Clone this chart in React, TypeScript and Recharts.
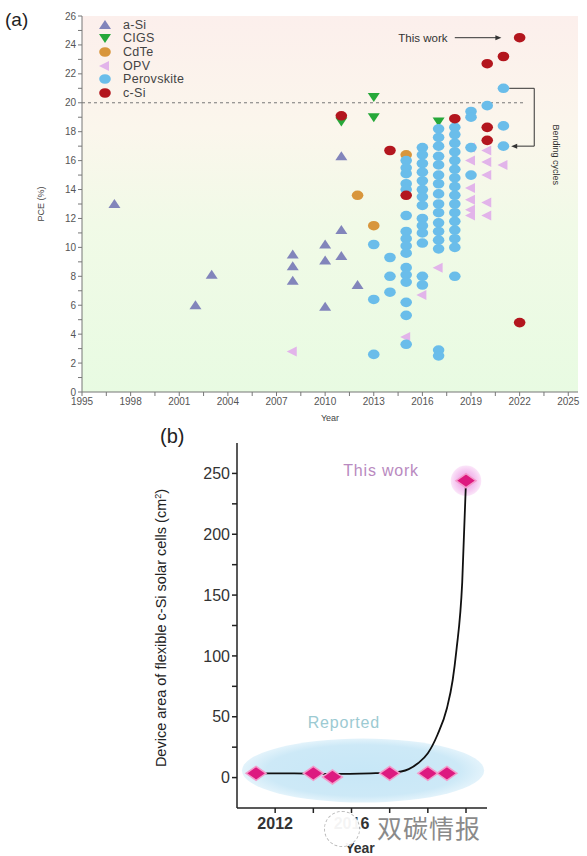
import React from "react";
import {
  ComposedChart,
  Scatter,
  Line,
  XAxis,
  YAxis,
  ReferenceLine,
  ReferenceDot,
  ReferenceArea,
  Legend,
  CartesianGrid,
} from "recharts";

document.body.style.margin = "0";

const FONT = "'Liberation Sans', Arial, sans-serif";

// (a) PCE of flexible solar cells, [year, PCE %]
const aSi = [
  [1997, 13.0], [2002, 6.0], [2003, 8.1], [2008, 9.5], [2008, 8.7], [2008, 7.7],
  [2010, 10.2], [2010, 9.1], [2010, 5.9], [2011, 16.3], [2011, 11.2], [2011, 9.4], [2012, 7.4],
];
const cigs = [[2011, 18.7], [2013, 20.4], [2013, 19.0], [2017, 18.7]];
const cdte = [[2012, 13.6], [2013, 11.5], [2015, 16.4]];
const opv = [
  [2008, 2.8], [2015, 3.8], [2016, 6.7], [2017, 8.6],
  [2019, 16.9], [2019, 16.0], [2019, 14.1], [2019, 13.3], [2019, 12.6], [2019, 12.2],
  [2020, 16.7], [2020, 15.9], [2020, 15.0], [2020, 13.1], [2020, 12.2], [2021, 15.7],
];
const perovskite = [
  [2013, 10.2], [2013, 6.4], [2013, 2.6],
  [2014, 9.3], [2014, 8.0], [2014, 6.9],
  [2015, 16.0], [2015, 15.5], [2015, 15.1], [2015, 14.4], [2015, 14.0], [2015, 12.2], [2015, 11.1],
  [2015, 10.6], [2015, 10.1], [2015, 9.6], [2015, 8.6], [2015, 8.1], [2015, 7.6], [2015, 6.2],
  [2015, 5.3], [2015, 3.3],
  [2016, 16.9], [2016, 16.4], [2016, 15.8], [2016, 15.2], [2016, 14.6], [2016, 14.0], [2016, 13.5],
  [2016, 12.9], [2016, 12.0], [2016, 11.5], [2016, 11.0], [2016, 10.3], [2016, 8.0], [2016, 7.4],
  [2017, 18.2], [2017, 17.6], [2017, 17.0], [2017, 16.3], [2017, 15.7], [2017, 15.0], [2017, 14.4],
  [2017, 13.7], [2017, 13.0], [2017, 12.4], [2017, 11.7], [2017, 11.1], [2017, 10.5], [2017, 9.9],
  [2017, 2.9], [2017, 2.5],
  [2018, 18.3], [2018, 17.8], [2018, 17.2], [2018, 16.6], [2018, 16.0], [2018, 15.4], [2018, 14.8],
  [2018, 14.2], [2018, 13.6], [2018, 13.0], [2018, 12.4], [2018, 11.8], [2018, 11.2], [2018, 10.6],
  [2018, 10.0], [2018, 8.0],
  [2019, 19.4], [2019, 19.0], [2019, 16.9], [2019, 15.0],
  [2020, 19.8],
  [2021, 21.0], [2021, 18.4], [2021, 17.0],
];
const cSi = [
  [2011, 19.1], [2014, 16.7], [2015, 13.6], [2018, 18.9], [2020, 22.7], [2020, 18.3],
  [2020, 17.4], [2021, 23.2], [2022, 24.5], [2022, 4.8],
];

const yearTicksA = [1995, 1996.5, 1998, 1999.5, 2001, 2002.5, 2004, 2005.5, 2007, 2008.5, 2010, 2011.5, 2013, 2014.5, 2016, 2017.5, 2019, 2020.5, 2022, 2023.5, 2025];
const pceTicks = [0, 1, 2, 3, 4, 5, 6, 7, 8, 9, 10, 11, 12, 13, 14, 15, 16, 17, 18, 19, 20, 21, 22, 23, 24, 25, 26];

// (b) device area of flexible c-Si cells, cm²
const reportedYears = [2011, 2014, 2015, 2018, 2020, 2021];
const reportedArea = [3.5, 3.5, 0.5, 3.5, 3.5, 3.5];
const thisWorkYear = 2022;
const thisWorkArea = 244;
const fitYears = [2011, 2013, 2015, 2017, 2018, 2018.6, 2019, 2019.5, 2020, 2020.5, 2021, 2021.3, 2021.5, 2021.8, 2022];
const fitArea = [3.5, 3.5, 3, 3.5, 4, 5, 7, 12, 20, 35, 57, 80, 105, 160, 244];
const yearTicksB = [2012, 2014, 2016, 2018, 2020, 2022];
const yearLabelsB = [2012, 2016];
const areaTicks = [0, 25, 50, 75, 100, 125, 150, 175, 200, 225, 250];

const series = [
  { name: "a-Si", data: aSi, color: "#8285bb", kind: "up" },
  { name: "CIGS", data: cigs, color: "#27a83a", kind: "down" },
  { name: "CdTe", data: cdte, color: "#d8963c", kind: "circle" },
  { name: "OPV", data: opv, color: "#e2b4ea", kind: "left" },
  { name: "Perovskite", data: perovskite, color: "#6abdea", kind: "circle" },
  { name: "c-Si", data: cSi, color: "#b3161e", kind: "circle" },
];

const toPts = (arr: number[][]) => arr.map(([year, v]) => ({ year, v }));

const marker = (kind: string, color: string, cx: number, cy: number) => {
  if (kind === "up")
    return <path d={`M${cx},${cy - 5} L${cx + 6},${cy + 4} L${cx - 6},${cy + 4} Z`} fill={color} />;
  if (kind === "down")
    return <path d={`M${cx},${cy + 5} L${cx + 6},${cy - 4} L${cx - 6},${cy - 4} Z`} fill={color} />;
  if (kind === "left")
    return <path d={`M${cx - 6},${cy} L${cx + 4},${cy - 5} L${cx + 4},${cy + 5} Z`} fill={color} />;
  return <ellipse cx={cx} cy={cy} rx={5.8} ry={4.8} fill={color} />;
};

const LegendA = () => (
  <div style={{ fontFamily: FONT, fontSize: 12.5, color: "#444", letterSpacing: 0.3, textAlign: "left" }}>
    {series.map((s) => (
      <div key={s.name} style={{ height: 13.6, display: "flex", alignItems: "center" }}>
        <svg width={14} height={12}>{marker(s.kind, s.color, 7, 6)}</svg>
        <span style={{ marginLeft: 11 }}>{s.name}</span>
      </div>
    ))}
  </div>
);

const axisTextA = { fontSize: 10, fill: "#555", fontFamily: FONT };

const ChartA = () => (
  <ComposedChart width={587} height={430} margin={{ top: 16, right: 9, bottom: 10, left: 0 }}>
    <CartesianGrid horizontal={false} vertical={false} fill="url(#bgA)" />
    <XAxis
      type="number"
      dataKey="year"
      domain={[1995, 2025.6]}
      ticks={yearTicksA}
      interval={0}
      allowDataOverflow
      height={28}
      tickSize={4}
      stroke="#777"
      tick={axisTextA}
      tickFormatter={(v) => (Number.isInteger(v) ? String(v) : "")}
      label={() => (
        <text x={330} y={421} textAnchor="middle" fontSize={9} fill="#444" fontFamily={FONT}>
          Year
        </text>
      )}
    />
    <XAxis xAxisId="top" orientation="top" type="number" domain={[1995, 2025.6]} ticks={yearTicksA}
      interval={0} allowDataOverflow height={0} tickSize={3} stroke="#888" tick={false} />
    <YAxis
      type="number"
      dataKey="v"
      domain={[0, 26]}
      ticks={pceTicks}
      interval={0}
      allowDataOverflow
      width={82}
      tickSize={4}
      stroke="#777"
      tick={axisTextA}
      tickFormatter={(v) => (v % 2 === 0 ? String(v) : "")}
      label={() => (
        <text x={44} y={204} transform="rotate(-90 44 204)" textAnchor="middle" fontSize={9} fill="#444" fontFamily={FONT}>
          PCE (%)
        </text>
      )}
    />
    <YAxis yAxisId="right" orientation="right" type="number" domain={[0, 26]} ticks={pceTicks}
      interval={0} allowDataOverflow width={0} tickSize={3} stroke="#888" tick={false} />
    <ReferenceLine segment={[{ x: 1995, y: 20 }, { x: 2022.3, y: 20 }]} stroke="#777" strokeDasharray="3 3" />
    {series.map((s) => (
      <Scatter
        key={s.name}
        name={s.name}
        data={toPts(s.data)}
        dataKey="v"
        isAnimationActive={false}
        shape={(p: any) => marker(s.kind, s.color, p.cx, p.cy)}
      />
    ))}
    <ReferenceLine segment={[{ x: 2018.0, y: 24.5 }, { x: 2020.6, y: 24.5 }]} stroke="#333" />
    <ReferenceDot x={2020.75} y={24.5} r={0}
      shape={(p: any) => <path d={`M${p.cx + 2},${p.cy} L${p.cx - 4},${p.cy - 2.5} L${p.cx - 4},${p.cy + 2.5} Z`} fill="#333" />} />
    <ReferenceDot x={2017.55} y={24.5} r={0}
      shape={(p: any) => (
        <text x={p.cx} y={p.cy + 4} textAnchor="end" fontSize={11.5} fill="#333" fontFamily={FONT}>This work</text>
      )} />
    <ReferenceLine segment={[{ x: 2021.35, y: 21.0 }, { x: 2022.9, y: 21.0 }]} stroke="#333" />
    <ReferenceLine segment={[{ x: 2022.9, y: 21.0 }, { x: 2022.9, y: 17.0 }]} stroke="#333" />
    <ReferenceLine segment={[{ x: 2022.9, y: 17.0 }, { x: 2021.75, y: 17.0 }]} stroke="#333" />
    <ReferenceDot x={2021.6} y={17.0} r={0}
      shape={(p: any) => <path d={`M${p.cx - 2},${p.cy} L${p.cx + 4},${p.cy - 2.5} L${p.cx + 4},${p.cy + 2.5} Z`} fill="#333" />} />
    <ReferenceDot x={2024.25} y={16.4} r={0}
      shape={(p: any) => (
        <text x={p.cx} y={p.cy} transform={`rotate(90 ${p.cx} ${p.cy})`} textAnchor="middle" dy={3}
          fontSize={9} fill="#333" fontFamily={FONT}>Bending cycles</text>
      )} />
    <Legend
      layout="horizontal"
      verticalAlign="middle"
      align="center"
      wrapperStyle={{ left: 98, top: 18, width: "auto", height: "auto" }}
      content={() => <LegendA />}
    />
  </ComposedChart>
);

const fitData = fitYears.map((year, i) => ({ year, area: fitArea[i] }));
const reportedData = reportedYears.map((year, i) => ({ year, area: reportedArea[i] }));
const thisWorkData = [{ year: thisWorkYear, area: thisWorkArea }];

const diamond = (p: any) => (
  <path
    d={`M${p.cx},${p.cy - 7} L${p.cx + 10},${p.cy} L${p.cx},${p.cy + 7} L${p.cx - 10},${p.cy} Z`}
    fill="#dd1a80"
    stroke="#f39ccb"
    strokeWidth={1.5}
  />
);

const ChartB = () => (
  <ComposedChart width={587} height={426} data={fitData} margin={{ top: 13, right: 100, bottom: 0, left: 150 }}>
    <XAxis
      type="number"
      dataKey="year"
      domain={[2010, 2023.1]}
      ticks={yearTicksB}
      interval={0}
      allowDataOverflow
      height={48}
      tickSize={5}
      tickMargin={5}
      stroke="#222"
      strokeWidth={1.5}
      tick={{ fontSize: 16, fontWeight: "bold", fill: "#333", fontFamily: FONT }}
      tickFormatter={(v) => (yearLabelsB.includes(v) ? String(v) : "")}
      label={() => (
        <text x={360} y={423} textAnchor="middle" fontSize={14} fontWeight="bold" fill="#333" fontFamily={FONT}>
          Year
        </text>
      )}
    />
    <YAxis
      type="number"
      dataKey="area"
      domain={[-25, 275]}
      ticks={areaTicks}
      interval={0}
      allowDataOverflow
      width={87}
      tickSize={5}
      stroke="#222"
      strokeWidth={1.5}
      tick={{ fontSize: 16, fill: "#333", fontFamily: FONT }}
      tickFormatter={(v) => (v % 50 === 0 ? String(v) : "")}
      label={() => (
        <text x={166} y={198} transform="rotate(-90 166 198)" textAnchor="middle" fontSize={14.5} fill="#222" fontFamily={FONT}>
          Device area of flexible c-Si solar cells (cm<tspan dy={-5} fontSize={9}>2</tspan><tspan dy={5}>)</tspan>
        </text>
      )}
    />
    <ReferenceArea x1={2010.26} x2={2022.95} y1={-20.5} y2={32.1} fill="url(#ellB)"
      shape={(p: any) => (
        <ellipse cx={p.x + p.width / 2} cy={p.y + p.height / 2} rx={p.width / 2} ry={p.height / 2} fill="url(#ellB)" />
      )} />
    <ReferenceArea x1={2021.2} x2={2022.8} y1={231.7} y2={256.3}
      shape={(p: any) => (
        <circle cx={p.x + p.width / 2} cy={p.y + p.height / 2} r={p.width / 2} fill="url(#haloB)" />
      )} />
    <Line type="monotone" dataKey="area" stroke="#111" strokeWidth={1.8} dot={false} isAnimationActive={false} />
    <Scatter data={reportedData} dataKey="area" shape={diamond} isAnimationActive={false} />
    <Scatter data={thisWorkData} dataKey="area" shape={diamond} isAnimationActive={false} />
    <ReferenceDot x={2017.55} y={251.6} r={0}
      shape={(p: any) => (
        <text x={p.cx} y={p.cy + 5} textAnchor="middle" fontSize={16} letterSpacing={0.8} fill="#b98ac0" fontFamily={FONT}>This work</text>
      )} />
    <ReferenceDot x={2015.6} y={45} r={0}
      shape={(p: any) => (
        <text x={p.cx} y={p.cy + 5} textAnchor="middle" fontSize={16} letterSpacing={0.8} fill="#9ccad2" fontFamily={FONT}>Reported</text>
      )} />
  </ComposedChart>
);

export default function App() {
  return (
    <div style={{ position: "relative", width: 587, height: 856, overflow: "hidden", background: "#fff" }}>
      <svg width={0} height={0} style={{ position: "absolute" }}>
        <defs>
          <linearGradient id="bgA" x1="0" y1="0" x2="0" y2="1">
            <stop offset="0%" stopColor="#fcefec" />
            <stop offset="30%" stopColor="#fbf6ec" />
            <stop offset="55%" stopColor="#f1fae7" />
            <stop offset="100%" stopColor="#e8fbe2" />
          </linearGradient>
          <radialGradient id="ellB">
            <stop offset="0%" stopColor="#c7e7f7" />
            <stop offset="80%" stopColor="#cde9f7" />
            <stop offset="100%" stopColor="#e3f3fb" />
          </radialGradient>
          <radialGradient id="haloB">
            <stop offset="0%" stopColor="#ee9fe6" />
            <stop offset="60%" stopColor="#f4c2ef" />
            <stop offset="100%" stopColor="#fbe6f9" />
          </radialGradient>
        </defs>
      </svg>
      <div style={{ position: "absolute", left: 0, top: 0 }}>
        <ChartA />
      </div>
      <div style={{ position: "absolute", left: 5, top: 9, fontFamily: FONT, fontSize: 19, color: "#222" }}>(a)</div>
      <div style={{ position: "absolute", left: 0, top: 430 }}>
        <ChartB />
      </div>
      <div style={{ position: "absolute", left: 160, top: 425, fontFamily: FONT, fontSize: 20, color: "#222" }}>(b)</div>
      <div style={{ position: "absolute", left: 324, top: 811, width: 34, height: 34, borderRadius: "50%", border: "1.5px dashed #bbb", background: "rgba(255,255,255,0.95)" }} />
      <div style={{ position: "absolute", left: 377, top: 809, fontFamily: "'Noto Sans CJK SC'", fontSize: 25, color: "#8a8a8a", letterSpacing: 1 }}>
        双碳情报
      </div>
    </div>
  );
}
